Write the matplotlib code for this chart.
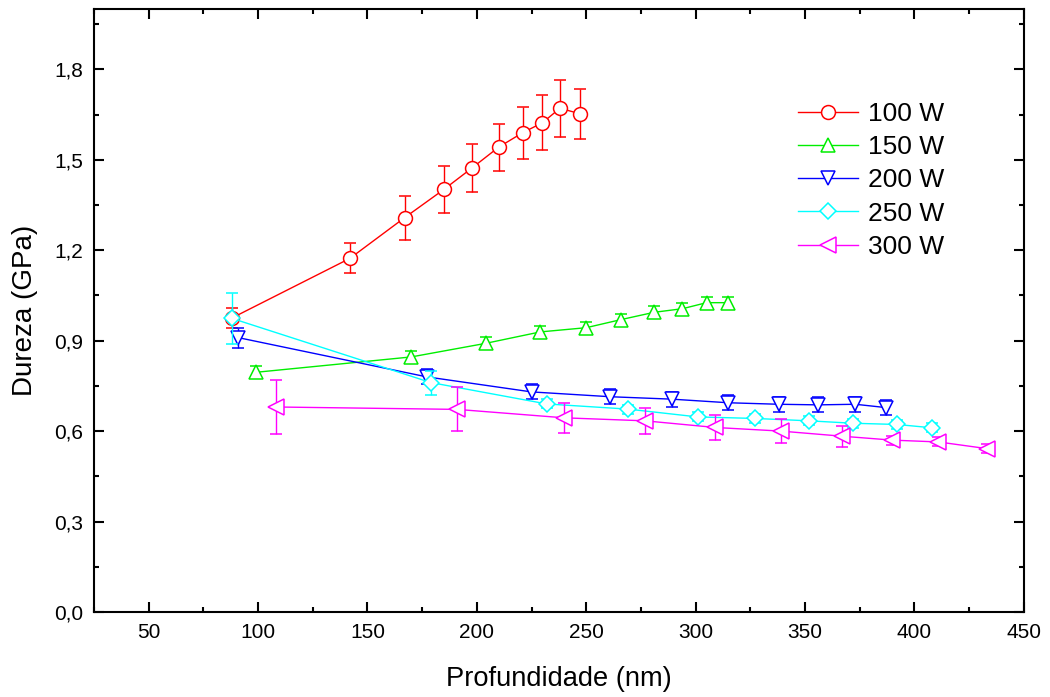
import numpy as np
import matplotlib.pyplot as plt
from matplotlib.ticker import MultipleLocator, FuncFormatter

plt.rcParams['font.family'] = ['Liberation Sans', 'DejaVu Sans']

# depth (nm) / hardness (GPa) / std dev for each power
x100 = [88, 142, 167, 185, 198, 210, 221, 230, 238, 247]
h100 = [0.975, 1.173, 1.308, 1.402, 1.474, 1.542, 1.590, 1.623, 1.671, 1.653]
e100 = [0.033, 0.050, 0.073, 0.078, 0.080, 0.078, 0.086, 0.091, 0.094, 0.083]

x150 = [99, 170, 204, 229, 250, 266, 281, 294, 305, 315]
h150 = [0.795, 0.846, 0.891, 0.929, 0.943, 0.970, 0.994, 1.006, 1.026, 1.026]
e150 = [0.020, 0.020, 0.020, 0.020, 0.020, 0.020, 0.020, 0.020, 0.020, 0.020]

x200 = [91, 177, 225, 261, 289, 315, 338, 356, 373, 387]
h200 = [0.910, 0.780, 0.730, 0.714, 0.706, 0.694, 0.689, 0.687, 0.689, 0.678]
e200 = [0.033, 0.025, 0.025, 0.025, 0.025, 0.025, 0.025, 0.025, 0.025, 0.025]

x250 = [88, 179, 232, 269, 301, 327, 352, 372, 392, 408]
h250 = [0.974, 0.761, 0.690, 0.673, 0.647, 0.642, 0.634, 0.626, 0.622, 0.611]
e250 = [0.084, 0.040, 0.015, 0.015, 0.015, 0.015, 0.015, 0.015, 0.015, 0.015]

x300 = [108, 191, 240, 277, 309, 339, 367, 390, 411, 433]
h300 = [0.680, 0.672, 0.644, 0.634, 0.612, 0.600, 0.583, 0.570, 0.564, 0.542]
e300 = [0.090, 0.073, 0.050, 0.044, 0.043, 0.040, 0.035, 0.015, 0.015, 0.015]

series = [
    ('100 W', x100, h100, e100, '#ff0000', 'o', 10),
    ('150 W', x150, h150, e150, '#00ee00', '^', 10),
    ('200 W', x200, h200, e200, '#0000ff', 'v', 10),
    ('250 W', x250, h250, e250, '#00ffff', 'D', 8),
    ('300 W', x300, h300, e300, '#ff00ff', '<', 11),
]

fig = plt.figure(figsize=(10.5, 6.97), dpi=100)
ax = fig.add_axes([0.0895, 0.122, 0.8855, 0.865])

for i, (lab, x, y, e, c, m, ms) in enumerate(series):
    ax.errorbar(x, y, yerr=e, color=c, marker=m, ms=ms, mfc='white', mec=c,
                mew=1.1, lw=1.0, elinewidth=1.0, capsize=4, capthick=1.0,
                label=lab, zorder=3 + i)

ax.set_xlim(25, 450)
ax.set_ylim(0, 2.0)
ax.xaxis.set_major_locator(MultipleLocator(50))
ax.xaxis.set_minor_locator(MultipleLocator(25))
ax.yaxis.set_major_locator(MultipleLocator(0.3))
ax.yaxis.set_minor_locator(MultipleLocator(0.15))
ax.yaxis.set_major_formatter(FuncFormatter(lambda v, p: f'{v:.1f}'.replace('.', ',')))

ax.tick_params(which='both', direction='in', top=True, right=True, width=1.5,
               labelsize=15, pad=8)
ax.tick_params(which='major', length=7)
ax.tick_params(which='minor', length=3.5)
for s in ax.spines.values():
    s.set_linewidth(1.5)

ax.set_xlabel('Profundidade (nm)', fontsize=19.6, labelpad=17)
ax.set_ylabel('Dureza (GPa)', fontsize=20, labelpad=11)

handles, labels = ax.get_legend_handles_labels()
handles = [h[0] for h in handles]
ax.legend(handles, labels, loc='upper left', bbox_to_anchor=(0.757, 0.846),
          frameon=False, fontsize=19, numpoints=1, handlelength=2.27,
          handletextpad=0.38, labelspacing=0.35, borderpad=0, borderaxespad=0)

fig.savefig('out.png', dpi=100)
